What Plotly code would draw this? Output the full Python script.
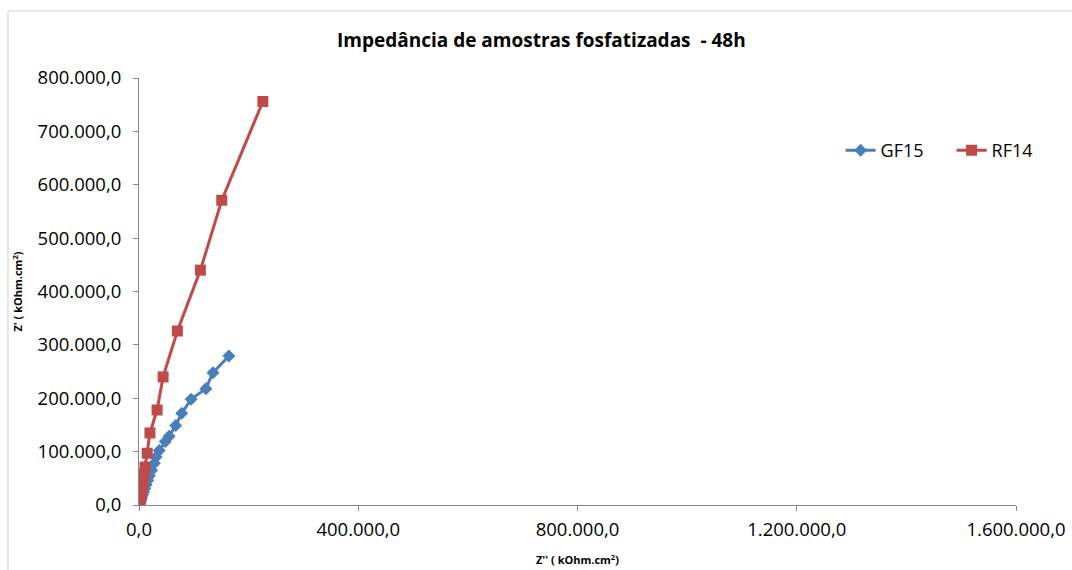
import plotly.graph_objects as go

# Nyquist-style impedance data, kOhm.cm²
gf15_zre = [164000, 135000, 122000, 95000, 78000, 67000, 55000, 48000, 37000, 31000, 28000,
            23000, 19000, 16000, 13000, 10500, 8500, 6500, 5000, 3500, 2500, 1500, 800, 300]
gf15_zim = [279000, 248000, 218000, 198000, 172000, 149000, 129000, 119000, 102000, 90000, 78000,
            65000, 55000, 46000, 38000, 31000, 25000, 19000, 14000, 10000, 6500, 4000, 2000, 800]

rf14_zre = [226000, 151000, 112000, 70000, 44000, 33000, 20000, 15000, 11000,
            9000, 7500, 6000, 5000, 4000, 3000, 2200, 1500, 1000, 600, 300, 100]
rf14_zim = [756000, 571000, 440000, 326000, 240000, 178000, 135000, 97000, 71000,
            58000, 47000, 38000, 30000, 23000, 17000, 12000, 8000, 5000, 2500, 1000, 300]

x_ticks = [0, 400000, 800000, 1200000, 1600000]
y_ticks = [0, 100000, 200000, 300000, 400000, 500000, 600000, 700000, 800000]

BLUE = "#4A7EBB"
RED = "#BE4B48"
AXIS = "#868686"
FONT = "Open Sans, DejaVu Sans, sans-serif"

fig = go.Figure()
fig.add_trace(go.Scatter(
    x=gf15_zre, y=gf15_zim, name="GF15", mode="lines+markers",
    line=dict(color=BLUE, width=3),
    marker=dict(symbol="diamond", size=10, color=BLUE),
))
fig.add_trace(go.Scatter(
    x=rf14_zre, y=rf14_zim, name="RF14", mode="lines+markers",
    line=dict(color=RED, width=3),
    marker=dict(symbol="square", size=11, color=RED),
))

fig.update_layout(
    width=1072, height=570,
    margin=dict(l=139, r=56, t=78, b=65, autoexpand=False),
    paper_bgcolor="white", plot_bgcolor="white",
    separators=",.",
    font=dict(family=FONT, color="#000000"),
    title=dict(
        text="<b>Impedância de amostras fosfatizadas  - 48h</b>",
        x=0.505, xanchor="center", y=0.93, yanchor="middle",
        font=dict(size=19, family=FONT, color="#000000"),
    ),
    showlegend=True,
    legend=dict(
        orientation="h", x=0.8, xanchor="left", y=0.83, yanchor="middle",
        font=dict(size=18, family=FONT, color="#000000"),
        bgcolor="rgba(0,0,0,0)", itemwidth=30,
        entrywidth=66, entrywidthmode="pixels",
    ),
    xaxis=dict(
        range=[0, 1600000], tickvals=x_ticks, tickformat=",.1f", automargin=False,
        showgrid=False, zeroline=False, showline=True, linecolor=AXIS, linewidth=1,
        ticks="outside", ticklen=5, tickcolor=AXIS, ticklabelstandoff=3,
        tickfont=dict(size=18.5, family=FONT, color="#000000"),
        title=dict(text="<b>Z'' ( kOhm.cm<sup>2</sup>)</b>", font=dict(size=11, family=FONT), standoff=16),
    ),
    yaxis=dict(
        range=[0, 800000], tickvals=y_ticks, tickformat=",.1f", automargin=False,
        showgrid=False, zeroline=False, showline=True, linecolor=AXIS, linewidth=1,
        ticks="outside", ticklen=5, tickcolor=AXIS, ticklabelstandoff=8,
        tickfont=dict(size=18.5, family=FONT, color="#000000"),
        title=dict(text="<b>Z' ( kOhm.cm<sup>2</sup>)</b>", font=dict(size=11, family=FONT), standoff=12),
    ),
    shapes=[dict(
        type="rect", xref="paper", yref="paper",
        x0=-0.1494, x1=1.2, y0=-0.3, y1=1.157,
        line=dict(color="#D0D0D0", width=1), fillcolor="rgba(0,0,0,0)", layer="below",
    )],
)

fig.write_html("out.html")
